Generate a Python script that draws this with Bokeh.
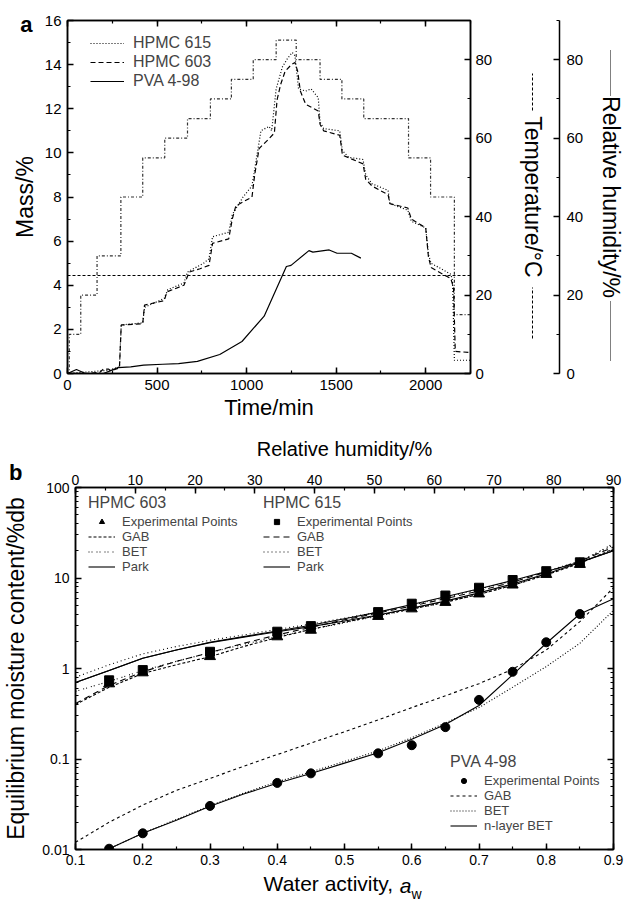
import json
from bokeh.plotting import figure
from bokeh.models import (Range1d, LinearAxis, LogAxis, SingleIntervalTicker, FixedTicker,
                          Legend, LegendItem, CustomJSTickFormatter)
from bokeh.embed import file_html
from bokeh.resources import INLINE

FONT = "Liberation Sans"

# ---------------- panel a data ----------------
rh_time = [0, 10, 74, 165, 298, 420, 543, 670, 798, 915, 1037, 1165, 1277, 1410, 1532, 1654, 1904, 2027, 2160, 2250]
rh_level = [0, 10, 20, 30, 45, 55, 60, 65, 70, 75, 80, 85, 80, 75, 70, 65, 55, 45, 15, 15]
temp_time = [0, 2250]
temp_level = [25, 25]

hpmc603_t = [0, 100, 180, 200, 230, 240, 290, 300, 420, 430, 540, 555, 650, 680, 740, 790, 810, 900, 920, 940,
             1030, 1045, 1070, 1120, 1155, 1170, 1190, 1215, 1250, 1270, 1285, 1300, 1330, 1400, 1410, 1430,
             1520, 1535, 1650, 1665, 1700, 1790, 1800, 1900, 1920, 2000, 2015, 2030, 2140, 2155, 2165, 2250]
hpmc603_m = [0.0, 0.0, 0.05, 0.2, 0.2, 0.12, 0.25, 2.2, 2.25, 3.1, 3.3, 3.7, 4.0, 4.6, 4.75, 4.9, 5.9, 6.1, 7.0, 7.6,
             8.0, 9.0, 10.2, 10.6, 10.9, 12.4, 13.1, 13.7, 14.0, 14.1, 13.7, 12.8, 12.2, 11.9, 11.3, 11.0,
             10.8, 9.9, 9.5, 8.8, 8.5, 8.1, 7.7, 7.5, 7.0, 6.6, 5.3, 4.8, 4.3, 3.9, 1.0, 0.95]

hpmc615_t = [0, 230, 290, 300, 420, 430, 540, 560, 650, 670, 760, 790, 810, 900, 920, 980, 1030, 1060, 1080,
             1125, 1140, 1165, 1200, 1230, 1255, 1270, 1290, 1330, 1360, 1400, 1410, 1430, 1520, 1535, 1570,
             1650, 1665, 1700, 1790, 1800, 1900, 1920, 2000, 2015, 2030, 2140, 2150, 2160, 2250]
hpmc615_m = [0.0, 0.15, 0.3, 2.2, 2.3, 3.0, 3.4, 3.8, 4.1, 4.6, 5.0, 5.2, 6.2, 6.4, 7.2, 8.0, 8.5, 10.0, 11.0,
             11.2, 11.0, 12.9, 13.9, 14.3, 14.55, 14.4, 12.9, 12.8, 12.9, 12.5, 11.4, 11.1, 11.0, 10.1, 9.8,
             9.7, 9.0, 8.6, 8.3, 7.7, 7.4, 6.9, 6.6, 5.4, 5.0, 4.5, 4.2, 0.6, 0.6]

pva_t = [0, 50, 100, 200, 238, 282, 353, 425, 532, 620, 725, 850, 974, 1098, 1222, 1248, 1348, 1370, 1461, 1505, 1585, 1638]
pva_m = [0.0, 0.18, 0.0, 0.0, 0.12, 0.27, 0.3, 0.38, 0.42, 0.45, 0.55, 0.86, 1.45, 2.6, 4.85, 4.9, 5.57, 5.5, 5.6, 5.45, 5.45, 5.23]

# ---------------- panel b data ----------------
aw = [0.1, 0.15, 0.2, 0.25, 0.3, 0.35, 0.4, 0.45, 0.5, 0.55, 0.6, 0.65, 0.7, 0.75, 0.8, 0.85, 0.9]
aw_exp = [0.15, 0.2, 0.3, 0.4, 0.45, 0.55, 0.6, 0.65, 0.7, 0.75, 0.8, 0.85]

h603_exp = [0.68, 0.90, 1.36, 2.25, 2.66, 3.78, 4.58, 5.4, 6.7, 8.4, 11.0, 14.2]
h603_gab = [0.40, 0.62, 0.88, 1.1, 1.35, 1.75, 2.2, 2.7, 3.25, 3.85, 4.55, 5.4, 6.6, 8.3, 10.8, 14.5, 21]
h603_bet = [0.56, 0.72, 0.95, 1.2, 1.5, 1.85, 2.25, 2.7, 3.2, 3.8, 4.5, 5.4, 6.6, 8.3, 10.9, 15.0, 24]
h603_park = [0.70, 0.95, 1.3, 1.6, 1.93, 2.22, 2.55, 2.9, 3.35, 3.9, 4.65, 5.55, 6.85, 8.6, 11.1, 14.8, 20]

h615_exp = [0.74, 0.96, 1.53, 2.55, 2.94, 4.2, 5.2, 6.4, 7.8, 9.5, 11.9, 14.9]
h615_gab = [0.41, 0.65, 0.92, 1.2, 1.5, 1.9, 2.35, 2.85, 3.45, 4.1, 4.9, 5.9, 7.2, 9.0, 11.6, 15.3, 22]
h615_bet = [0.80, 1.1, 1.45, 1.75, 2.05, 2.35, 2.7, 3.1, 3.6, 4.2, 5.0, 6.1, 7.5, 9.3, 11.8, 15.5, 23]
h615_park = [0.70, 0.95, 1.3, 1.6, 1.95, 2.25, 2.6, 3.0, 3.55, 4.2, 5.1, 6.2, 7.6, 9.4, 11.8, 15.0, 20]

pva_exp = [0.0102, 0.0151, 0.0303, 0.0544, 0.0694, 0.1155, 0.142, 0.225, 0.45, 0.92, 1.95, 4.0]
pva_gab = [0.012, 0.020, 0.031, 0.045, 0.061, 0.083, 0.112, 0.15, 0.20, 0.27, 0.37, 0.5, 0.68, 0.98, 1.6, 3.3, 7.8]
aw_pva = [0.15, 0.2, 0.25, 0.3, 0.35, 0.4, 0.45, 0.5, 0.55, 0.6, 0.65, 0.7, 0.75, 0.8, 0.85, 0.9]
pva_bet = [0.0102, 0.0151, 0.0215, 0.0305, 0.042, 0.056, 0.072, 0.094, 0.123, 0.172, 0.25, 0.37, 0.62, 1.05, 1.9, 4.4]
pva_nlayer = [0.0102, 0.0151, 0.021, 0.030, 0.041, 0.054, 0.069, 0.090, 0.117, 0.165, 0.24, 0.39, 0.85, 1.9, 4.0, 5.9]

log_major = [0.01, 0.1, 1, 10, 100]
log_minor = [m * d for d in [0.01, 0.1, 1, 10] for m in range(2, 10)]

EMPTY = "return '';"


def style_axis(ax, tick_size="15px", label_size="22px"):
    ax.major_tick_in = 6
    ax.major_tick_out = 0
    ax.minor_tick_in = 3
    ax.minor_tick_out = 0
    ax.axis_line_width = 1.5
    ax.major_tick_line_width = 1.5
    ax.minor_tick_line_width = 1.2
    ax.axis_line_color = "black"
    ax.major_label_text_font = FONT
    ax.major_label_text_font_size = tick_size
    ax.major_label_text_color = "black"
    ax.axis_label_text_font = FONT
    ax.axis_label_text_font_size = label_size
    ax.axis_label_text_font_style = "normal"
    ax.axis_label_text_color = "black"


def hide_labels(ax):
    ax.formatter = CustomJSTickFormatter(code=EMPTY)
    ax.major_label_standoff = 0
    ax.axis_label = None


def guide_axis(cls=LinearAxis, tick=0.0, text="", size="15px", style="normal", standoff=0,
               tick_out=0, bounds=None, dash=None, label=None, label_size="23px", label_standoff=0, **kw):
    """An axis used only for a text or a line key outside the frame."""
    ax = cls(ticker=FixedTicker(ticks=[tick], minor_ticks=[]), **kw)
    ax.formatter = CustomJSTickFormatter(code="return %s;" % json.dumps(text))
    ax.major_label_text_font = FONT
    ax.major_label_text_font_size = size
    ax.major_label_text_font_style = style
    ax.major_label_text_color = "black"
    ax.major_label_standoff = standoff
    ax.major_tick_in = 0
    ax.major_tick_out = tick_out
    ax.minor_tick_in = 0
    ax.minor_tick_out = 0
    ax.major_tick_line_color = None
    ax.minor_tick_line_color = None
    if bounds is not None:
        ax.bounds = bounds
    if dash is not None:
        ax.axis_line_color = "black"
        ax.axis_line_width = 1
        ax.axis_line_dash = dash
    else:
        ax.axis_line_color = None
    if label is not None:
        ax.axis_label = label
        ax.axis_label_text_font = FONT
        ax.axis_label_text_font_size = label_size
        ax.axis_label_text_font_style = "normal"
        ax.axis_label_text_color = "black"
        ax.axis_label_standoff = label_standoff
    return ax


# ================= panel a =================
pa = figure(width=626, height=430, x_range=Range1d(0, 2250), y_range=Range1d(0, 16),
            output_backend="svg", toolbar_location=None,
            min_border_left=67, min_border_right=136, min_border_top=20, min_border_bottom=57)
pa.extra_y_ranges = {"temp": Range1d(0, 90), "rh": Range1d(0, 90)}
pa.xgrid.visible = False
pa.ygrid.visible = False
pa.outline_line_color = "black"
pa.outline_line_width = 1.5

xa = pa.xaxis[0]
xa.ticker = SingleIntervalTicker(interval=500, num_minor_ticks=2)
xa.axis_label = "Time/min"
style_axis(xa)
xa.major_label_standoff = 6
xa.axis_label_standoff = 2

ya = pa.yaxis[0]
ya.ticker = SingleIntervalTicker(interval=2, num_minor_ticks=2)
ya.axis_label = "Mass/%"
style_axis(ya, label_size="23px")
ya.major_label_standoff = 6
ya.axis_label_standoff = 4

# panel letter "a"
pa.add_layout(guide_axis(tick=15.8, text="a", size="22px", style="bold", standoff=-24), "left")

top_a = LinearAxis(ticker=SingleIntervalTicker(interval=500, num_minor_ticks=2))
style_axis(top_a)
hide_labels(top_a)
pa.add_layout(top_a, "above")

temp_ax = LinearAxis(y_range_name="temp", ticker=SingleIntervalTicker(interval=20, num_minor_ticks=2))
style_axis(temp_ax)
temp_ax.major_label_standoff = 5
pa.add_layout(temp_ax, "right")
pa.add_layout(guide_axis(y_range_name="temp", tick=45, tick_out=37), "right")
pa.add_layout(guide_axis(y_range_name="temp", tick=72, bounds=(67.1, 76.5), dash="3 2"), "right")
pa.add_layout(guide_axis(y_range_name="temp", tick=15, bounds=(8.9, 21.9), dash="3 2"), "right")
pa.add_layout(guide_axis(y_range_name="temp", tick=45, label="Temperature/°C", label_standoff=-13), "right")
pa.add_layout(guide_axis(y_range_name="temp", tick=45, tick_out=11), "right")

rh_ax = LinearAxis(y_range_name="rh", ticker=SingleIntervalTicker(interval=20, num_minor_ticks=2))
style_axis(rh_ax)
rh_ax.major_label_standoff = 7
pa.add_layout(rh_ax, "right")
pa.add_layout(guide_axis(y_range_name="rh", tick=45, tick_out=24), "right")
pa.add_layout(guide_axis(y_range_name="rh", tick=75, bounds=(70.9, 82.4), dash="1 1"), "right")
pa.add_layout(guide_axis(y_range_name="rh", tick=10, bounds=(3.3, 18.6), dash="1 1"), "right")
pa.add_layout(guide_axis(y_range_name="rh", tick=45, label="Relative humidity/%", label_standoff=-13), "right")

pa.step(rh_time, rh_level, mode="after", y_range_name="rh", line_color="#333333",
        line_width=1.2, line_dash="3 2 1 2")
pa.line(temp_time, temp_level, y_range_name="temp", line_color="black", line_width=1.1, line_dash="3 2")
r615 = pa.line(hpmc615_t, hpmc615_m, line_color="black", line_width=1.2, line_dash="1 2")
r603 = pa.line(hpmc603_t, hpmc603_m, line_color="black", line_width=1.2, line_dash="5 3")
rpva = pa.line(pva_t, pva_m, line_color="black", line_width=1.2)

leg_a = Legend(items=[LegendItem(label="HPMC 615", renderers=[r615]),
                      LegendItem(label="HPMC 603", renderers=[r603]),
                      LegendItem(label="PVA 4-98", renderers=[rpva])],
               location=(23, 283))
leg_a.label_text_font = FONT
leg_a.label_text_font_size = "16px"
leg_a.glyph_width = 34
leg_a.glyph_height = 18
leg_a.label_height = 18
leg_a.spacing = 1
leg_a.padding = 0
leg_a.margin = 0
leg_a.label_standoff = 9
leg_a.border_line_color = None
leg_a.background_fill_alpha = 0
pa.add_layout(leg_a, "center")

# ================= panel b =================
pb = figure(width=626, height=474, x_range=Range1d(0.1, 0.9), y_range=Range1d(0.01, 100),
            y_axis_type="log", output_backend="svg", toolbar_location=None,
            min_border_left=72, min_border_right=13, min_border_top=57, min_border_bottom=51)
pb.extra_x_ranges = {"rhx": Range1d(0, 90)}
pb.xgrid.visible = False
pb.ygrid.visible = False
pb.outline_line_color = "black"
pb.outline_line_width = 1.5

xb = pb.xaxis[0]
xb.ticker = SingleIntervalTicker(interval=0.1, num_minor_ticks=2)
style_axis(xb, tick_size="14px")
xb.major_label_standoff = 5
xb.axis_label = None
# "Water activity, a_w" built from three text guides below the tick labels
pb.add_layout(guide_axis(tick=0.476, text="Water activity,", size="21px", standoff=4), "below")
pb.add_layout(guide_axis(tick=0.5907, text="a", size="21px", style="italic", standoff=-24), "below")
pb.add_layout(guide_axis(tick=0.607, text="w", size="14px", standoff=-14), "below")

yb = pb.yaxis[0]
yb.ticker = FixedTicker(ticks=log_major, minor_ticks=log_minor)
yb.formatter = CustomJSTickFormatter(code="return tick.toString();")
yb.axis_label = "Equilibrium moisture content/%db"
style_axis(yb, tick_size="14px", label_size="23px")
yb.major_label_standoff = 6
yb.axis_label_standoff = 10
# panel letter "b" (second, empty line lifts it above the top tick)
pb.add_layout(guide_axis(cls=LogAxis, tick=99, text="b\n", size="22px",
                         style="bold", standoff=-22), "left")

top_b = LinearAxis(x_range_name="rhx", ticker=SingleIntervalTicker(interval=10, num_minor_ticks=2),
                   axis_label="Relative humidity/%")
style_axis(top_b, tick_size="14px", label_size="20px")
top_b.major_label_standoff = 3
top_b.axis_label_standoff = 12
pb.add_layout(top_b, "above")

right_b = LogAxis(ticker=FixedTicker(ticks=log_major, minor_ticks=log_minor))
style_axis(right_b)
hide_labels(right_b)
pb.add_layout(right_b, "right")

# HPMC 603
g603 = pb.line(aw, h603_gab, line_color="black", line_width=1.1, line_dash="3 2")
b603 = pb.line(aw, h603_bet, line_color="black", line_width=1.1, line_dash="1 2 1 4")
p603 = pb.line(aw, h603_park, line_color="black", line_width=1.1)
# HPMC 615
g615 = pb.line(aw, h615_gab, line_color="black", line_width=1.1, line_dash="6 4")
b615 = pb.line(aw, h615_bet, line_color="black", line_width=1.1, line_dash="1 3")
p615 = pb.line(aw, h615_park, line_color="black", line_width=1.1)
# PVA
gpva = pb.line(aw, pva_gab, line_color="black", line_width=1.1, line_dash="3 3")
bpva = pb.line(aw_pva, pva_bet, line_color="black", line_width=1.1, line_dash="1 2")
npva = pb.line(aw_pva, pva_nlayer, line_color="black", line_width=1.1)

e603 = pb.scatter(aw_exp, h603_exp, marker="triangle", size=11, color="black")
e615 = pb.scatter(aw_exp, h615_exp, marker="square", size=9, color="black")
epva = pb.scatter(aw_exp, pva_exp, marker="circle", size=9, color="black")


def make_legend(title, items, loc):
    lg = Legend(items=[LegendItem(label=l, renderers=[r]) for l, r in items], location=loc, title=title)
    lg.title_text_font = FONT
    lg.title_text_font_size = "16px"
    lg.title_text_font_style = "normal"
    lg.title_standoff = 2
    lg.label_text_font = FONT
    lg.label_text_font_size = "13px"
    lg.glyph_width = 27
    lg.glyph_height = 13
    lg.label_height = 13
    lg.spacing = 0
    lg.padding = 0
    lg.margin = 0
    lg.label_standoff = 7
    lg.border_line_color = None
    lg.background_fill_alpha = 0
    return lg


pb.add_layout(make_legend("HPMC 603", [("Experimental Points", e603), ("GAB", g603), ("BET", b603),
                                       ("Park", p603)], (13, 275)), "center")
pb.add_layout(make_legend("HPMC 615", [("Experimental Points", e615), ("GAB", g615), ("BET", b615),
                                       ("Park", p615)], (188, 275)), "center")
pb.add_layout(make_legend("PVA 4-98", [("Experimental Points", epva), ("GAB", gpva), ("BET", bpva),
                                       ("n-layer BET", npva)], (375, 16)), "center")

open("out.html", "w").write(file_html([pa, pb], INLINE))
